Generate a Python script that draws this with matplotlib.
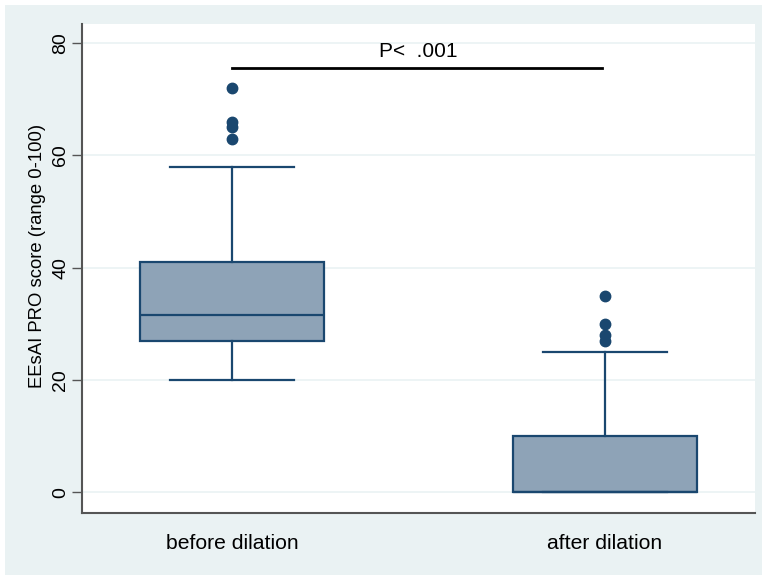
import matplotlib.pyplot as plt
from matplotlib.patches import Rectangle

groups = ["before dilation", "after dilation"]
whislo = [20, 0]
q1 = [27, 0]
med = [31.5, 0]
q3 = [41, 10]
whishi = [58, 25]
fliers = [[72, 66, 65, 63], [35, 30, 28, 27]]
p_text = "P<  .001"
p_y = 75.5

navy = "#1a476f"
boxfill = "#8ea3b7"
bg = "#eaf2f3"

plt.rcParams['font.family'] = ['Liberation Sans', 'DejaVu Sans']

fig = plt.figure(figsize=(7.65, 5.77), dpi=100)
fig.patches.append(Rectangle((5/765, 2/577), 757/765, 570/577, transform=fig.transFigure,
                             facecolor=bg, edgecolor="none", zorder=-10))
ax = fig.add_axes([82/765, 64/577, 673/765, 489/577])
ax.set_facecolor("white")

stats = []
for i in range(len(groups)):
    stats.append(dict(whislo=whislo[i], q1=q1[i], med=med[i], q3=q3[i],
                      whishi=whishi[i], fliers=fliers[i], label=groups[i]))

ax.bxp(stats, positions=[1, 2], widths=0.493, patch_artist=True,
       boxprops=dict(facecolor=boxfill, edgecolor=navy, linewidth=1.6),
       medianprops=dict(color=navy, linewidth=1.6),
       whiskerprops=dict(color=navy, linewidth=1.6),
       capprops=dict(color=navy, linewidth=1.6),
       capwidths=0.333,
       flierprops=dict(marker='o', markerfacecolor=navy, markeredgecolor=navy, markersize=7.5))

ax.plot([1, 1.992], [p_y, p_y], color="black", linewidth=2)
ax.text(1.5, p_y + 1.3, p_text, ha="center", va="bottom", fontsize=15)

ax.set_xlim(0.598, 2.402)
ax.set_ylim(-3.7, 83.4)
ax.set_yticks([0, 20, 40, 60, 80])
ax.yaxis.grid(True, color=bg, linewidth=1.2)
ax.set_axisbelow(True)
ax.tick_params(axis="y", labelrotation=90, labelsize=14, length=7, color="#555555", width=1, pad=2)
ax.tick_params(axis="x", labelsize=15.2, length=0, pad=15)
for lab in ax.get_yticklabels():
    lab.set_va("center")
ax.set_ylabel("EEsAI PRO score (range 0-100)", fontsize=13.3)
ax.yaxis.set_label_coords(-0.054, 0.526)
for s in ["top", "right"]:
    ax.spines[s].set_visible(False)
for s in ["left", "bottom"]:
    ax.spines[s].set_color("#555555")
    ax.spines[s].set_linewidth(1.5)

fig.savefig("out.png", dpi=100)
